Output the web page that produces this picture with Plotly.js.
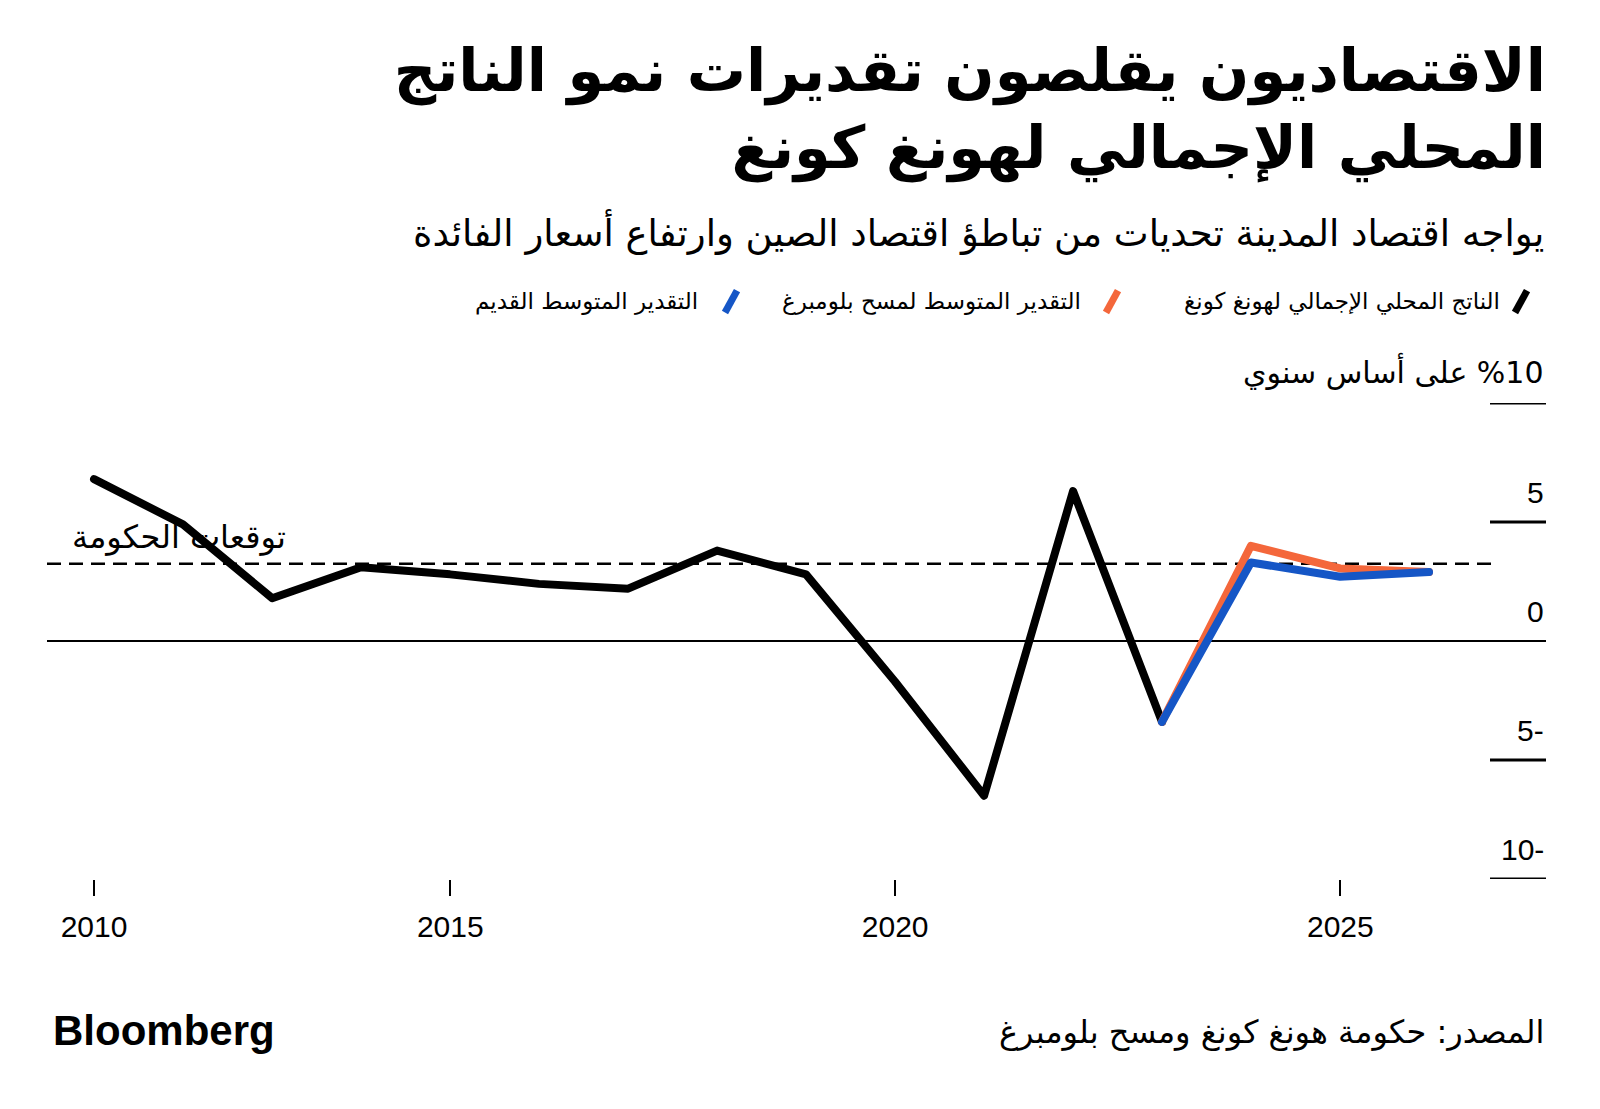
<!DOCTYPE html>
<html>
<head>
<meta charset="utf-8">
<script src="https://cdn.plot.ly/plotly-3.0.1.min.js"></script>
<style>
  html, body { margin: 0; padding: 0; background: #fff; }
  #chart { width: 1600px; height: 1109px; }
  .scatterlayer .js-line { stroke-linejoin: round !important; stroke-linecap: round !important; }
</style>
</head>
<body>
<div id="chart"></div>
<script>
// ---------------- DATA ----------------
const titleLines = ['الاقتصاديون يقلصون تقديرات نمو الناتج', 'المحلي الإجمالي لهونغ كونغ'];
const subtitle = 'يواجه اقتصاد المدينة تحديات من تباطؤ اقتصاد الصين وارتفاع أسعار الفائدة';
const seriesNames = ['الناتج المحلي الإجمالي لهونغ كونغ', 'التقدير المتوسط لمسح بلومبرغ', 'التقدير المتوسط القديم'];
const seriesColors = ['#000000', '#F4673B', '#1556C6'];

const years = [2010, 2011, 2012, 2013, 2014, 2015, 2016, 2017, 2018, 2019, 2020, 2021, 2022];
const gdpGrowth = [6.8, 4.9, 1.8, 3.1, 2.8, 2.4, 2.2, 3.8, 2.8, -1.7, -6.5, 6.3, -3.4];

const forecastYears = [2022, 2023, 2024, 2025];
const surveyMedian = [-3.4, 4.0, 3.05, 2.9];
const oldMedian = [-3.4, 3.3, 2.7, 2.9];

const govForecast = 3.25;
const govLabel = 'توقعات الحكومة';

const yTickVals = [10, 5, 0, -5, -10];
const yTickText = ['على أساس سنوي\u200E %10', '5', '0', '5-', '10-'];
const xTickYears = [2010, 2015, 2020, 2025];
const xTickText = ['2010', '2015', '2020', '2025'];

const sourceText = 'المصدر: حكومة هونغ كونغ ومسح بلومبرغ';
const brand = 'Bloomberg';

// ---------------- LAYOUT GEOMETRY ----------------
const W = 1600, H = 1109;
const mL = 47, mR = 54, mT = 402.6, mB = 229.6;
const plotW = W - mL - mR, plotH = H - mT - mB;
const px = x => (x - mL) / plotW;          // pixel x -> paper x
const py = y => (H - mB - y) / plotH;      // pixel y -> paper y

const toDate = y => y + '-12-31';
const AR = 'DejaVu Sans, sans-serif';
const LAT = 'Liberation Sans, Arial, sans-serif';

const traces = [
  { x: years.map(toDate), y: gdpGrowth, name: seriesNames[0], type: 'scatter', mode: 'lines',
    line: { color: seriesColors[0], width: 8 }, showlegend: false, hoverinfo: 'skip' },
  { x: forecastYears.map(toDate), y: surveyMedian, name: seriesNames[1], type: 'scatter', mode: 'lines',
    line: { color: seriesColors[1], width: 8 }, showlegend: false, hoverinfo: 'skip' },
  { x: forecastYears.map(toDate), y: oldMedian, name: seriesNames[2], type: 'scatter', mode: 'lines',
    line: { color: seriesColors[2], width: 8 }, showlegend: false, hoverinfo: 'skip' }
];

const shapes = [];
const annotations = [];

// government forecast dashed line
shapes.push({ type: 'line', xref: 'paper', yref: 'y', x0: 0, x1: px(1492), y0: govForecast, y1: govForecast,
  line: { color: '#000', width: 2.5, dash: '14px,8px' }, layer: 'below' });
annotations.push({ xref: 'paper', yref: 'y', x: px(288), y: govForecast, yshift: 6, xanchor: 'right', yanchor: 'bottom',
  text: govLabel, showarrow: false, font: { family: AR, size: 32, color: '#000' } });

// right-side y tick lines and labels
yTickVals.forEach((v, i) => {
  if (v !== 0) {
    shapes.push({ type: 'line', xref: 'paper', yref: 'y', x0: px(1490), x1: 1, y0: v, y1: v,
      line: { color: '#000', width: 3 } });
  }
  annotations.push({ xref: 'paper', yref: 'y', x: 1, y: v, yshift: 11, xanchor: 'right', yanchor: 'bottom',
    text: yTickText[i], showarrow: false, font: { family: i === 0 ? AR : LAT, size: 30, color: '#000' } });
});

// manual legend (RTL: swatch on the right of the label)
const legendSwatchX = [1521, 1112, 731];
const legendTextRight = [1502, 1083, 700];
const legendY = 301;
seriesNames.forEach((n, i) => {
  shapes.push({ type: 'line', xref: 'paper', yref: 'paper',
    x0: px(legendSwatchX[i] - 6), y0: py(legendY + 11), x1: px(legendSwatchX[i] + 6), y1: py(legendY - 11),
    line: { color: seriesColors[i], width: 7 } });
  annotations.push({ xref: 'paper', yref: 'paper', x: px(legendTextRight[i]), y: py(legendY),
    xanchor: 'right', yanchor: 'middle', text: n, showarrow: false,
    font: { family: AR, size: 23, color: '#000' } });
});

// subtitle
annotations.push({ xref: 'paper', yref: 'paper', x: 1, y: py(231), xanchor: 'right', yanchor: 'middle',
  text: subtitle, showarrow: false, font: { family: AR, size: 37, color: '#000' } });

// source and brand
annotations.push({ xref: 'paper', yref: 'paper', x: 1, y: py(1033), xanchor: 'right', yanchor: 'middle',
  text: sourceText, showarrow: false, font: { family: AR, size: 32, color: '#000' } });
annotations.push({ xref: 'paper', yref: 'paper', x: px(51), y: py(1031), xanchor: 'left', yanchor: 'middle',
  text: '<b>' + brand + '</b>', showarrow: false, font: { family: LAT, size: 42, color: '#000' } });

const layout = {
  width: W, height: H, autosize: false,
  paper_bgcolor: '#fff', plot_bgcolor: '#fff',
  margin: { l: mL, r: mR, t: mT, b: mB, pad: 0 },
  title: { text: titleLines.join('<br>'), xref: 'container', yref: 'container',
    x: 1546 / W, xanchor: 'right', y: 1 - 91 / H, yanchor: 'top',
    font: { family: AR, size: 59, color: '#000', weight: 'bold' } },
  xaxis: {
    type: 'date', range: ['2010-06-21', '2027-04-25'],
    tickmode: 'array', tickvals: xTickYears.map((y, i) => i === 0 ? toDate(y) : y + '-01-01'), ticktext: xTickText,
    ticks: 'outside', ticklen: 16, tickwidth: 2, tickcolor: '#000', ticklabelstandoff: 5,
    showgrid: false, zeroline: false, showline: false,
    tickfont: { family: LAT, size: 30, color: '#000' }, fixedrange: true
  },
  yaxis: {
    range: [-10, 10], showgrid: false, showticklabels: false, ticks: '',
    zeroline: true, zerolinecolor: '#000', zerolinewidth: 2, showline: false, fixedrange: true
  },
  shapes: shapes,
  annotations: annotations,
  showlegend: false
};

Plotly.newPlot('chart', traces, layout, { displayModeBar: false, staticPlot: true });
</script>
</body>
</html>
